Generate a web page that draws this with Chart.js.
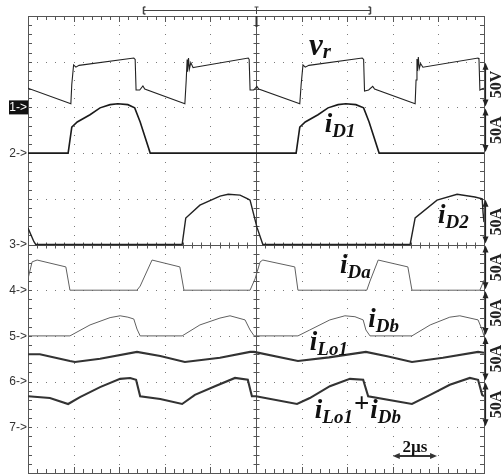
<!DOCTYPE html>
<html>
<head>
<meta charset="utf-8">
<script src="https://cdn.jsdelivr.net/npm/chart.js@4.4.0/dist/chart.umd.min.js"></script>
<style>
  body { margin: 0; background: #fff; }
  #wrap { width: 503px; height: 476px; }
</style>
</head>
<body>
<div id="wrap"><canvas id="scope" width="503" height="476"></canvas></div>
<script>
// traces, in screen divisions (x: 0..10 left to right, y: 0..10 bottom to top)
const vr = [[0,8.42],[0.94,8.08],[0.96,8.5],[1.0,8.93],[1.05,8.88],[1.12,8.92],[2.32,9.08],[2.35,9.05],[2.37,8.38],
  [2.45,8.38],[2.52,8.47],[2.56,8.40],[3.44,8.08],[3.47,8.6],[3.49,9.05],[3.50,8.78],[3.52,9.08],[3.54,8.84],
  [3.57,8.98],[3.62,8.87],[3.66,8.88],[4.83,9.08],[4.85,9.05],[4.87,8.38],[4.95,8.38],[5.02,8.46],[5.06,8.40],
  [5.96,8.08],[5.99,8.5],[6.03,8.93],[6.08,8.88],[6.16,8.92],[7.33,9.08],[7.36,9.05],[7.38,8.36],[7.47,8.38],
  [7.56,8.46],[7.60,8.40],[8.49,8.08],[8.51,8.6],[8.53,9.06],[8.54,8.8],[8.56,9.1],[8.58,8.85],[8.61,8.96],
  [8.66,8.88],[9.87,9.08],[9.89,9.05],[9.91,8.38],[9.96,8.41],[10,8.42]];
const iD1 = [[0,7.0],[0.88,7.0],[0.96,7.57],[1.08,7.68],[1.36,7.84],[1.58,7.99],[1.80,8.06],[1.97,8.08],[2.19,8.06],
  [2.34,7.99],[2.46,7.68],[2.68,7.0],[5.88,7.0],[5.96,7.57],[6.08,7.68],[6.36,7.84],[6.58,7.99],[6.80,8.06],
  [6.97,8.08],[7.19,8.06],[7.36,7.99],[7.48,7.68],[7.70,7.0],[10,7.0]];
const iD2 = [[0,5.36],[0.13,5.06],[0.17,5.0],[3.38,5.0],[3.46,5.58],[3.77,5.86],[4.21,6.06],[4.39,6.10],[4.65,6.08],
  [4.82,6.0],[4.87,5.97],[5.02,5.38],[5.15,5.0],[8.38,5.0],[8.49,5.58],[8.97,5.97],[9.41,6.10],[9.80,6.04],
  [9.96,6.0],[9.98,5.69],[10,5.49]];
const iDa = [[0,4.25],[0.09,4.62],[0.20,4.66],[0.83,4.51],[0.92,4.0],[2.39,4.0],[2.46,4.09],[2.72,4.66],[3.33,4.51],
  [3.42,4.0],[4.87,4.0],[4.98,4.25],[5.09,4.62],[5.15,4.66],[5.85,4.51],[5.92,4.0],[7.43,4.0],[7.50,4.20],
  [7.68,4.66],[8.33,4.51],[8.42,4.0],[9.91,4.0],[10,4.22]];
const iDb = [[0,3.0],[0.92,3.0],[1.36,3.24],[1.80,3.40],[2.02,3.44],[2.19,3.41],[2.32,3.37],[2.39,3.15],[2.46,3.0],
  [3.38,3.0],[3.77,3.24],[4.21,3.39],[4.43,3.44],[4.76,3.35],[4.87,3.13],[4.96,3.0],[5.92,3.0],[6.18,3.13],
  [6.62,3.35],[6.95,3.44],[7.17,3.42],[7.35,3.35],[7.41,3.13],[7.50,3.0],[8.42,3.0],[8.82,3.24],[9.25,3.41],
  [9.47,3.44],[9.87,3.35],[9.96,3.13],[10,3.0]];
const iLo1 = [[0,2.60],[0.26,2.60],[0.92,2.45],[1.03,2.43],[1.58,2.50],[2.39,2.65],[2.90,2.56],[3.44,2.43],
  [4.21,2.52],[4.87,2.65],[4.96,2.65],[5.92,2.45],[6.60,2.53],[7.41,2.65],[7.90,2.55],[8.42,2.43],[9.10,2.52],
  [9.87,2.65],[10,2.63]];
const iSum = [[0,1.68],[0.48,1.64],[0.88,1.51],[1.14,1.66],[1.58,1.88],[2.02,2.06],[2.24,2.08],[2.37,2.04],
  [2.46,1.68],[2.90,1.62],[3.38,1.51],[3.66,1.71],[4.10,1.90],[4.54,2.08],[4.82,2.04],[4.91,1.68],[5.0,1.68],
  [5.90,1.51],[6.18,1.64],[6.62,1.90],[7.06,2.06],[7.35,2.04],[7.46,1.68],[8.42,1.51],[8.82,1.71],[9.25,1.93],
  [9.69,2.08],[9.87,2.04],[9.96,1.71],[10,1.68]];

// channel ground markers on the left edge
const markerText = ['1->', '2->', '3->', '4->', '5->', '6->', '7->'];
const markerLevel = [8, 7, 5, 4, 3, 2, 1];

// scale bars on the right edge
const scaleText = ['50V', '50A', '50A', '50A', '50A', '50A', '50A'];
const scaleFrom = [8, 7, 5, 4, 3, 2, 1];
const scaleTo = [9, 8, 6, 5, 4, 3, 2];

// trace names
const labels = [
  { x: 6.16, y: 9.15, parts: [['v', 'b'], ['r', 't']] },
  { x: 6.51, y: 7.46, parts: [['i', 'm'], ['D1', 's']] },
  { x: 8.99, y: 5.47, parts: [['i', 'm'], ['D2', 's']] },
  { x: 6.84, y: 4.38, parts: [['i', 'm'], ['Da', 's']] },
  { x: 7.46, y: 3.19, parts: [['i', 'm'], ['Db', 's']] },
  { x: 6.18, y: 2.69, parts: [['i', 'm'], ['Lo1', 's']] },
  { x: 6.29, y: 1.20, parts: [['i', 'm'], ['Lo1', 's'], ['+', 'p'], ['i', 'm'], ['Db', 's']] }
];

function toPts(arr) {
  return arr.map(p => ({ x: p[0], y: p[1] }));
}

function line(ctx, x1, y1, x2, y2) {
  ctx.beginPath();
  ctx.moveTo(x1, y1);
  ctx.lineTo(x2, y2);
  ctx.stroke();
}

function head(ctx, x, y, dx, dy) {
  // small filled arrow head with its tip at x,y
  ctx.beginPath();
  ctx.moveTo(x, y);
  ctx.lineTo(x - dy * 3 - dx * 7, y - dy * 7 + dx * 3);
  ctx.lineTo(x + dy * 3 - dx * 7, y - dy * 7 - dx * 3);
  ctx.closePath();
  ctx.fill();
}

const gridPlugin = {
  id: 'scopeGrid',
  beforeDatasetsDraw(chart) {
    const { ctx, chartArea: a, scales: { x, y } } = chart;
    ctx.save();
    // dotted graticule
    ctx.fillStyle = '#7a7a7a';
    for (let i = 1; i < 10; i++) {
      if (i === 5) continue;
      const X = Math.round(x.getPixelForValue(i));
      const Y = Math.round(y.getPixelForValue(i));
      for (let k = 1; k < 50; k++) {
        ctx.fillRect(X, Math.round(y.getPixelForValue(k / 5)), 1, 1);
        ctx.fillRect(Math.round(x.getPixelForValue(k / 5)), Y, 1, 1);
      }
    }
    // centre cross and frame
    ctx.strokeStyle = '#555';
    ctx.lineWidth = 1;
    const cx = Math.round(x.getPixelForValue(5)) + 0.5;
    const cy = Math.round(y.getPixelForValue(5)) + 0.5;
    line(ctx, cx, a.top, cx, a.bottom);
    line(ctx, a.left, cy, a.right, cy);
    ctx.strokeRect(Math.round(a.left) + 0.5, Math.round(a.top) + 0.5, Math.round(a.width), Math.round(a.height));
    for (let k = 1; k < 50; k++) {
      const major = k % 5 === 0;
      const X = Math.round(x.getPixelForValue(k / 5)) + 0.5;
      const Y = Math.round(y.getPixelForValue(k / 5)) + 0.5;
      const t = major ? 6 : 4;
      line(ctx, X, a.top, X, a.top + t);
      line(ctx, X, a.bottom, X, a.bottom - t);
      line(ctx, a.left, Y, a.left + 4, Y);
      line(ctx, a.right, Y, a.right - 4, Y);
      line(ctx, X, cy - 3, X, cy + 3);
      line(ctx, cx - 3, Y, cx + 3, Y);
    }
    // trigger marker under the top edge
    ctx.lineWidth = 2;
    ctx.strokeStyle = '#333';
    line(ctx, cx, a.top, cx, a.top + 11);
    ctx.restore();
  },
  afterDatasetsDraw(chart) {
    const { ctx, chartArea: a, scales: { x, y } } = chart;
    ctx.save();
    // time window bracket above the screen
    ctx.strokeStyle = '#444';
    ctx.lineWidth = 1;
    const bx1 = Math.round(x.getPixelForValue(2.52)) + 0.5;
    const bx2 = Math.round(x.getPixelForValue(7.5)) + 0.5;
    const by = a.top - 5.5;
    line(ctx, bx1, by, bx2, by);
    ctx.lineWidth = 1.5;
    line(ctx, bx1, by - 3.5, bx1, by + 3.5);
    line(ctx, bx2, by - 3.5, bx2, by + 3.5);
    line(ctx, bx1, by - 3.5, bx1 + 2, by - 3.5);
    line(ctx, bx1, by + 3.5, bx1 + 2, by + 3.5);
    line(ctx, bx2, by - 3.5, bx2 - 2, by - 3.5);
    line(ctx, bx2, by + 3.5, bx2 - 2, by + 3.5);
    const cx = Math.round(x.getPixelForValue(5)) + 0.5;
    ctx.lineWidth = 1;
    line(ctx, cx, by - 3.5, cx, by + 3.5);
    line(ctx, cx - 2, by - 3.5, cx + 2, by - 3.5);

    // channel markers
    ctx.font = "12px 'Liberation Sans'";
    ctx.textAlign = 'right';
    ctx.textBaseline = 'middle';
    markerText.forEach((t, i) => {
      const Y = y.getPixelForValue(markerLevel[i]);
      if (i === 0) {
        ctx.fillStyle = '#111';
        ctx.fillRect(a.left - 19, Y - 7, 19, 14);
        ctx.fillStyle = '#fff';
      } else {
        ctx.fillStyle = '#333';
      }
      ctx.fillText(t, a.left - 1, Y + 0.5);
    });

    // scale bars
    ctx.fillStyle = '#222';
    ctx.strokeStyle = '#222';
    ctx.lineWidth = 1.2;
    const ax = a.right + 1.5;
    ctx.font = "bold 16px 'Liberation Serif'";
    ctx.textAlign = 'center';
    scaleText.forEach((t, i) => {
      const y1 = y.getPixelForValue(scaleTo[i]) + 1;
      const y2 = y.getPixelForValue(scaleFrom[i]) - 1;
      line(ctx, ax, y1 + 5, ax, y2 - 5);
      head(ctx, ax, y1, 0, -1);
      head(ctx, ax, y2, 0, 1);
      ctx.save();
      ctx.translate(a.right + 13, (y1 + y2) / 2);
      ctx.rotate(-Math.PI / 2);
      ctx.fillText(t, 0, 0);
      ctx.restore();
    });

    // trace names
    ctx.fillStyle = '#111';
    ctx.textAlign = 'left';
    ctx.textBaseline = 'alphabetic';
    const fonts = {
      b: ["bold italic 31px 'Liberation Serif'", 0],
      t: ["bold italic 21px 'Liberation Serif'", 3],
      m: ["bold italic 27px 'Liberation Serif'", 0],
      s: ["bold italic 19px 'Liberation Serif'", 5],
      p: ["bold 27px 'Liberation Serif'", -6]
    };
    labels.forEach(l => {
      let X = x.getPixelForValue(l.x);
      const Y = y.getPixelForValue(l.y);
      l.parts.forEach(p => {
        const f = fonts[p[1]];
        ctx.font = f[0];
        ctx.fillText(p[0], X, Y + f[1]);
        X += ctx.measureText(p[0]).width + (p[1] === 'm' || p[1] === 'b' ? 0 : 1);
      });
    });

    // time per division bar
    ctx.strokeStyle = '#333';
    ctx.fillStyle = '#333';
    ctx.lineWidth = 2;
    const tx1 = x.getPixelForValue(8.0);
    const tx2 = x.getPixelForValue(8.97);
    const ty = y.getPixelForValue(0.37);
    line(ctx, tx1 + 5, ty, tx2 - 5, ty);
    head(ctx, tx1, ty, -1, 0);
    head(ctx, tx2, ty, 1, 0);
    ctx.fillStyle = '#111';
    ctx.font = "bold 17px 'Liberation Serif'";
    ctx.textAlign = 'center';
    ctx.fillText('2\u00b5s', (tx1 + tx2) / 2, y.getPixelForValue(0.46));
    ctx.restore();
  }
};

function trace(data, color, width) {
  return {
    data: toPts(data),
    showLine: true,
    borderColor: color,
    borderWidth: width,
    pointRadius: 0,
    tension: 0,
    fill: false
  };
}

new Chart(document.getElementById('scope'), {
  type: 'scatter',
  data: {
    datasets: [
      trace(vr, '#222', 1.1),
      trace(iD1, '#1a1a1a', 1.6),
      trace(iD2, '#222', 1.4),
      trace(iDa, '#606060', 1),
      trace(iDb, '#606060', 1),
      trace(iLo1, '#333', 2.1),
      trace(iSum, '#333', 2.1)
    ]
  },
  options: {
    responsive: false,
    animation: false,
    layout: { padding: { left: 28, right: 19, top: 16, bottom: 3 } },
    plugins: { legend: { display: false }, tooltip: { enabled: false } },
    scales: {
      x: { type: 'linear', min: 0, max: 10, display: false },
      y: { type: 'linear', min: 0, max: 10, display: false }
    }
  },
  plugins: [gridPlugin]
});
</script>
</body>
</html>
